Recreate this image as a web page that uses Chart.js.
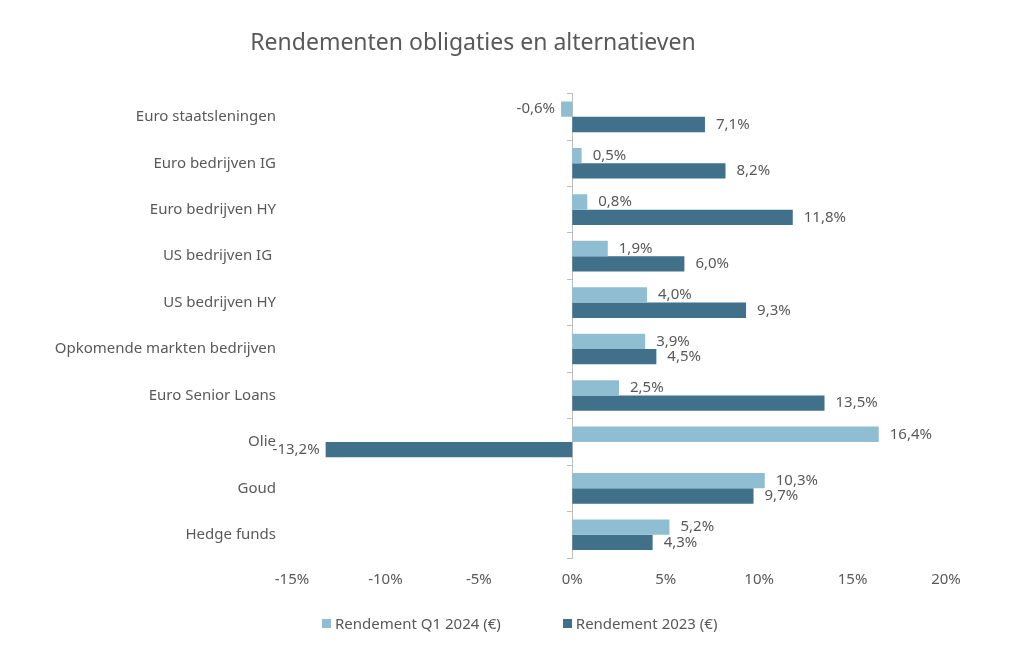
<!DOCTYPE html>
<html>
<head>
<meta charset="utf-8">
<script src="https://cdn.jsdelivr.net/npm/chart.js@4/dist/chart.umd.min.js"></script>
<style>
  html, body { margin: 0; padding: 0; background: #fff; }
  #wrap { position: relative; width: 1024px; height: 661px; }
  #legend {
    position: absolute; left: 322px; top: 613px;
    display: flex; align-items: center; gap: 62px;
    margin: 0; padding: 0; list-style: none;
    font-family: 'Noto Sans', sans-serif; font-size: 15px; color: #595959;
  }
  #legend li { display: flex; align-items: center; }
  #legend .box { width: 9px; height: 9px; margin-right: 4px; }
</style>
</head>
<body>
<div id="wrap">
  <canvas id="chart" width="1024" height="661"></canvas>
  <ul id="legend"></ul>
</div>
<script>
const categories = [
  'Euro staatsleningen',
  'Euro bedrijven IG',
  'Euro bedrijven HY',
  'US bedrijven IG ',
  'US bedrijven HY',
  'Opkomende markten bedrijven',
  'Euro Senior Loans',
  'Olie',
  'Goud',
  'Hedge funds',
];
const q1_2024 = [-0.6, 0.5, 0.8, 1.9, 4.0, 3.9, 2.5, 16.4, 10.3, 5.2];
const year_2023 = [7.1, 8.2, 11.8, 6.0, 9.3, 4.5, 13.5, -13.2, 9.7, 4.3];
const seriesNames = ['Rendement Q1 2024 (€)', 'Rendement 2023 (€)'];

const LIGHT = '#8fbed3';
const DARK = '#41718a';
const TEXT = '#595959';

Chart.defaults.font.family = "'Noto Sans', sans-serif";
Chart.defaults.color = TEXT;

const fmt = (v) => v.toFixed(1).replace('.', ',') + '%';

// value labels next to each bar
const barLabels = {
  id: 'barLabels',
  afterDatasetsDraw(c) {
    const ctx = c.ctx;
    ctx.save();
    ctx.font = "15px 'Noto Sans', sans-serif";
    ctx.fillStyle = TEXT;
    ctx.textBaseline = 'middle';
    c.data.datasets.forEach((ds, i) => {
      c.getDatasetMeta(i).data.forEach((bar, j) => {
        const v = ds.data[j];
        if (v >= 0) {
          ctx.textAlign = 'left';
          ctx.fillText(fmt(v), bar.x + 11, bar.y);
        } else {
          ctx.textAlign = 'right';
          ctx.fillText(fmt(v), bar.x - 6, bar.y);
        }
      });
    });
    ctx.restore();
  },
};

const htmlLegend = {
  id: 'htmlLegend',
  afterUpdate(c) {
    const ul = document.getElementById('legend');
    while (ul.firstChild) ul.firstChild.remove();
    c.data.datasets.forEach((ds) => {
      const li = document.createElement('li');
      const box = document.createElement('div');
      box.className = 'box';
      box.style.backgroundColor = ds.backgroundColor;
      const label = document.createElement('span');
      label.appendChild(document.createTextNode(ds.label));
      li.appendChild(box);
      li.appendChild(label);
      ul.appendChild(li);
    });
  },
};

new Chart(document.getElementById('chart'), {
  type: 'bar',
  data: {
    labels: categories,
    datasets: [
      { label: seriesNames[0], data: q1_2024, backgroundColor: LIGHT },
      { label: seriesNames[1], data: year_2023, backgroundColor: DARK },
    ],
  },
  options: {
    indexAxis: 'y',
    responsive: false,
    animation: false,
    categoryPercentage: 0.66,
    barPercentage: 1,
    layout: {
      padding: { top: 0, left: 0, right: 78, bottom: 59 },
    },
    scales: {
      x: {
        min: -15,
        max: 20,
        grid: { display: false, drawTicks: false },
        border: { display: false },
        ticks: {
          stepSize: 5,
          padding: 13,
          font: { size: 15 },
          callback: (v) => v + '%',
        },
      },
      y: {
        grid: { display: false, drawTicks: false },
        border: { display: false },
        ticks: { padding: 16, font: { size: 15 } },
        afterFit(scale) { scale.width = 292; },
      },
      y2: {
        type: 'category',
        axis: 'y',
        labels: categories,
        position: { x: 0 },
        offset: true,
        grid: {
          offset: true,
          drawOnChartArea: false,
          tickLength: 5,
          color: '#bfbfbf',
        },
        border: { color: '#bfbfbf' },
        ticks: { display: false },
      },
    },
    plugins: {
      legend: { display: false },
      tooltip: { enabled: false },
      title: {
        display: true,
        text: 'Rendementen obligaties en alternatieven',
        color: TEXT,
        font: { size: 23, weight: 'normal' },
        padding: { top: 30, bottom: 36 },
      },
    },
  },
  plugins: [barLabels, htmlLegend],
});
</script>
</body>
</html>
